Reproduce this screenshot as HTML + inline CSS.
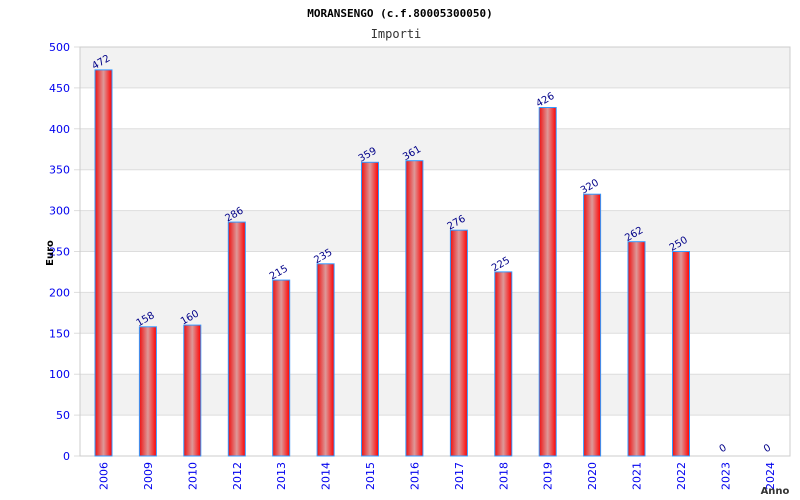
<!DOCTYPE html>
<html><head><style>body{margin:0;background:#fff}svg{display:block}</style></head><body>
<svg width="800" height="500" xmlns="http://www.w3.org/2000/svg" font-family="DejaVu Sans, sans-serif">
<defs>
<linearGradient id="g" x1="0" x2="1" y1="0" y2="0">
<stop offset="0" stop-color="#ee1111"/><stop offset="0.5" stop-color="#dd9999"/><stop offset="1" stop-color="#ff0000"/>
</linearGradient>
</defs>
<rect width="800" height="500" fill="#fff"/>
<text x="400" y="17" text-anchor="middle" font-size="11" font-weight="bold" font-family="DejaVu Sans Mono, monospace">MORANSENGO (c.f.80005300050)</text>
<text x="396" y="38" text-anchor="middle" font-size="12" font-family="DejaVu Sans Mono, monospace" fill="#333">Importi</text>
<g fill="#f2f2f2">
<rect x="80" y="47" width="710" height="40.9"/>
<rect x="80" y="128.8" width="710" height="40.9"/>
<rect x="80" y="210.6" width="710" height="40.9"/>
<rect x="80" y="292.4" width="710" height="40.9"/>
<rect x="80" y="374.2" width="710" height="40.9"/>
</g>
<g stroke="#ddd">
<line x1="74" x2="790" y1="456" y2="456"/><line x1="74" x2="790" y1="415.1" y2="415.1"/><line x1="74" x2="790" y1="374.2" y2="374.2"/><line x1="74" x2="790" y1="333.3" y2="333.3"/><line x1="74" x2="790" y1="292.4" y2="292.4"/><line x1="74" x2="790" y1="251.5" y2="251.5"/><line x1="74" x2="790" y1="210.6" y2="210.6"/><line x1="74" x2="790" y1="169.7" y2="169.7"/><line x1="74" x2="790" y1="128.8" y2="128.8"/><line x1="74" x2="790" y1="87.9" y2="87.9"/><line x1="74" x2="790" y1="47" y2="47"/>
</g>
<rect x="80" y="47" width="710" height="409" fill="none" stroke="#ccc"/>
<g font-size="11" fill="#0000ee" text-anchor="end">
<text x="70" y="460">0</text><text x="70" y="419.1">50</text><text x="70" y="378.2">100</text><text x="70" y="337.3">150</text><text x="70" y="296.4">200</text><text x="70" y="255.5">250</text><text x="70" y="214.6">300</text><text x="70" y="173.7">350</text><text x="70" y="132.8">400</text><text x="70" y="91.9">450</text><text x="70" y="51">500</text>
</g>
<g fill="url(#g)" stroke="#3399ff">
<rect x="95" y="69.9" width="17" height="386.1"/>
<rect x="139.4" y="326.8" width="17" height="129.2"/>
<rect x="183.8" y="325.1" width="17" height="130.9"/>
<rect x="228.3" y="222.1" width="17" height="233.9"/>
<rect x="272.7" y="280.1" width="17" height="175.9"/>
<rect x="317.1" y="263.8" width="17" height="192.2"/>
<rect x="361.5" y="162.3" width="17" height="293.7"/>
<rect x="405.9" y="160.7" width="17" height="295.3"/>
<rect x="450.4" y="230.2" width="17" height="225.8"/>
<rect x="494.8" y="271.9" width="17" height="184.1"/>
<rect x="539.2" y="107.5" width="17" height="348.5"/>
<rect x="583.6" y="194.2" width="17" height="261.8"/>
<rect x="628" y="241.7" width="17" height="214.3"/>
<rect x="672.5" y="251.5" width="17" height="204.5"/>
</g>
<g font-size="10" fill="#000088" text-anchor="middle">
<text transform="translate(102.5,64.9) rotate(-30)">472</text>
<text transform="translate(146.9,321.8) rotate(-30)">158</text>
<text transform="translate(191.3,320.1) rotate(-30)">160</text>
<text transform="translate(235.8,217.1) rotate(-30)">286</text>
<text transform="translate(280.2,275.1) rotate(-30)">215</text>
<text transform="translate(324.6,258.8) rotate(-30)">235</text>
<text transform="translate(369,157.3) rotate(-30)">359</text>
<text transform="translate(413.4,155.7) rotate(-30)">361</text>
<text transform="translate(457.9,225.2) rotate(-30)">276</text>
<text transform="translate(502.3,266.9) rotate(-30)">225</text>
<text transform="translate(546.7,102.5) rotate(-30)">426</text>
<text transform="translate(591.1,189.2) rotate(-30)">320</text>
<text transform="translate(635.5,236.7) rotate(-30)">262</text>
<text transform="translate(680,246.5) rotate(-30)">250</text>
<text transform="translate(724.4,451) rotate(-30)">0</text>
<text transform="translate(768.8,451) rotate(-30)">0</text>
</g>
<g font-size="11" fill="#0000ee" text-anchor="end">
<text transform="translate(107.5,462) rotate(-90)">2006</text>
<text transform="translate(151.9,462) rotate(-90)">2009</text>
<text transform="translate(196.3,462) rotate(-90)">2010</text>
<text transform="translate(240.8,462) rotate(-90)">2012</text>
<text transform="translate(285.2,462) rotate(-90)">2013</text>
<text transform="translate(329.6,462) rotate(-90)">2014</text>
<text transform="translate(374,462) rotate(-90)">2015</text>
<text transform="translate(418.4,462) rotate(-90)">2016</text>
<text transform="translate(462.9,462) rotate(-90)">2017</text>
<text transform="translate(507.3,462) rotate(-90)">2018</text>
<text transform="translate(551.7,462) rotate(-90)">2019</text>
<text transform="translate(596.1,462) rotate(-90)">2020</text>
<text transform="translate(640.5,462) rotate(-90)">2021</text>
<text transform="translate(685,462) rotate(-90)">2022</text>
<text transform="translate(729.4,462) rotate(-90)">2023</text>
<text transform="translate(773.8,462) rotate(-90)">2024</text>
</g>
<text transform="translate(53,253) rotate(-90)" text-anchor="middle" font-size="10" font-weight="bold">Euro</text>
<text x="775" y="494" text-anchor="middle" font-size="10" font-weight="bold" fill="#333">Anno</text>
</svg>
</body></html>
